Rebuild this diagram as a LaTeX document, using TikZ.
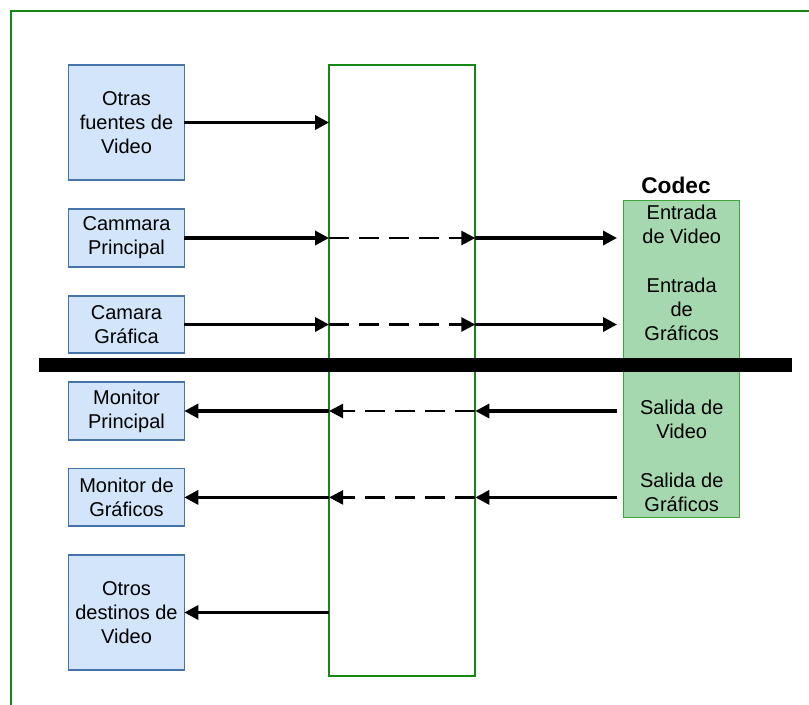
\documentclass[tikz,border=0pt]{standalone}
\usepackage{fontspec}
\setmainfont{Liberation Sans}
\usetikzlibrary{arrows.meta}
\definecolor{boxfill}{RGB}{211,229,250}
\definecolor{boxline}{RGB}{70,115,170}
\definecolor{frameg}{RGB}{20,135,20}
\definecolor{codecfill}{RGB}{166,216,176}
\definecolor{codecline}{RGB}{60,165,60}
\begin{document}
\begin{tikzpicture}[x=0.75pt,y=-0.75pt,
  src/.style={draw=boxline,fill=boxfill,line width=1.1pt,minimum width=86.7pt,inner sep=0pt,outer sep=0pt,align=center,font=\fontsize{15}{18}\selectfont},
  lbl/.style={align=center,font=\fontsize{15}{18}\selectfont,inner sep=0pt},
  conn/.style={line width=2.5pt,-{Triangle[length=10.5pt,width=10.5pt]}},
  dconn/.style={conn,line width=1.9pt,dash pattern=on 15pt off 7.5pt},
  ]
\useasboundingbox (0,0) rectangle (809,704);
\clip (0,0) rectangle (809,704);
\draw[frameg,line width=1.6pt] (11,10.7) rectangle (840,740);

% central block
\node[draw=frameg,line width=1.6pt,minimum width=109.7pt,minimum height=458pt,inner sep=0pt,outer sep=0pt] (hub) at (402.2,370.35) {};

% codec
\node[draw=codecline,fill=codecfill,line width=1.1pt,minimum width=87.3pt,minimum height=237.75pt,inner sep=0pt,outer sep=0pt] (codec) at (681.5,359.2) {};
\node[font=\bfseries\fontsize{17}{20}\selectfont,inner sep=0pt] (codeclbl) at (676,185) {Codec};
\node[lbl] (t1) at (681.7,224) {Entrada\\de Video};
\node[lbl] (t2) at (681.7,309.3) {Entrada\\de\\Gráficos};
\node[lbl] (t3) at (681.7,419.3) {Salida de\\Video};
\node[lbl] (t4) at (681.7,492.5) {Salida de\\Gráficos};

% sources and destinations
\node[src,minimum height=86.25pt] (b1) at (126.5,122.5) {Otras\\fuentes de\\Video};
\node[src,minimum height=43.5pt] (b2) at (126.5,238) {Cammara\\Principal};
\node[src,minimum height=43pt] (b3) at (126.5,324.5) {Camara\\Gráfica};
\node[src,minimum height=43.5pt] (b4) at (126.5,411) {Monitor\\Principal};
\node[src,minimum height=43pt] (b5) at (126.5,497.4) {Monitor de\\Gráficos};
\node[src,minimum height=86.25pt] (b6) at (126.5,612.5) {Otros\\destinos de\\Video};

% inputs
\draw[conn] (b1.east) -- (b1.east -| hub.west);
\draw[conn] (b2.east) -- (b2.east -| hub.west);
\draw[dconn] (b2.east -| hub.west) -- (b2.east -| hub.east);
\draw[conn,shorten >=4.7pt] (b2.east -| hub.east) -- (b2.east -| codec.west);
\draw[conn] (b3.east) -- (b3.east -| hub.west);
\draw[dconn] (b3.east -| hub.west) -- (b3.east -| hub.east);
\draw[conn,shorten >=4.7pt] (b3.east -| hub.east) -- (b3.east -| codec.west);

% outputs
\draw[conn,shorten <=4.7pt] (b4.east -| codec.west) -- (b4.east -| hub.east);
\draw[dconn] (b4.east -| hub.east) -- (b4.east -| hub.west);
\draw[conn] (b4.east -| hub.west) -- (b4.east);
\draw[conn,shorten <=4.7pt] (b5.east -| codec.west) -- (b5.east -| hub.east);
\draw[dconn] (b5.east -| hub.east) -- (b5.east -| hub.west);
\draw[conn] (b5.east -| hub.west) -- (b5.east);
\draw[conn] (b6.east -| hub.west) -- (b6.east);

% separating bar
\coordinate (barl) at (39,365);
\coordinate (barr) at (792,365);
\draw[line width=10pt] (barl) -- (barr);
\end{tikzpicture}
\end{document}
